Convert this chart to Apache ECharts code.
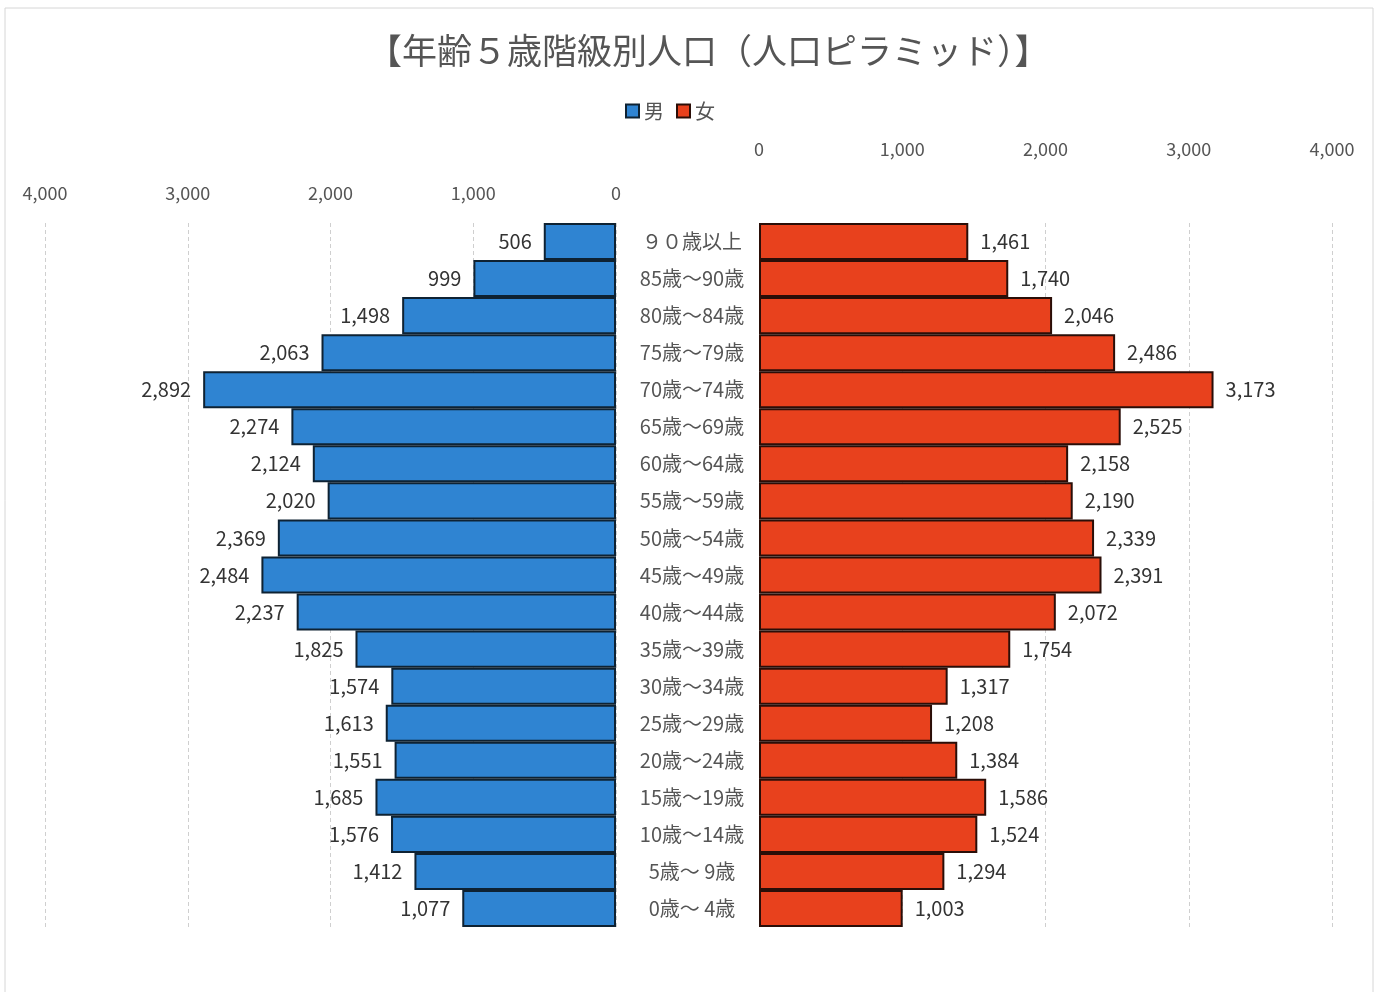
<!DOCTYPE html>
<html>
<head>
<meta charset="utf-8">
<script src="https://cdn.jsdelivr.net/npm/echarts@6/dist/echarts.min.js"></script>
<style>
  html, body { margin: 0; padding: 0; background: #ffffff; }
  #chart { width: 1381px; height: 992px; }
</style>
</head>
<body>
<div id="chart"></div>
<script>
// 5-year age groups, listed top (oldest) to bottom (youngest)
const ageGroups = [
  '９０歳以上', '85歳～90歳', '80歳～84歳', '75歳～79歳', '70歳～74歳',
  '65歳～69歳', '60歳～64歳', '55歳～59歳', '50歳～54歳', '45歳～49歳',
  '40歳～44歳', '35歳～39歳', '30歳～34歳', '25歳～29歳', '20歳～24歳',
  '15歳～19歳', '10歳～14歳', '5歳～ 9歳', '0歳～ 4歳'
];
const male = [506, 999, 1498, 2063, 2892, 2274, 2124, 2020, 2369, 2484,
              2237, 1825, 1574, 1613, 1551, 1685, 1576, 1412, 1077];
const female = [1461, 1740, 2046, 2486, 3173, 2525, 2158, 2190, 2339, 2391,
                2072, 1754, 1317, 1208, 1384, 1586, 1524, 1294, 1003];
const axisMax = 4000;
const axisStep = 1000;

const FONT = '"Noto Sans CJK JP", "Noto Sans", sans-serif';
const fmt = v => v.toLocaleString('en-US');

const chart = echarts.init(document.getElementById('chart'), null, { renderer: 'canvas' });

const gridLine = { show: true, lineStyle: { color: '#cfcfcf', type: [4, 3], width: 1 } };
const tickLabel = { color: '#555', fontSize: 18, fontFamily: FONT, formatter: v => fmt(v) };

chart.setOption({
  backgroundColor: '#ffffff',
  animation: false,
  graphic: [{
    type: 'rect',
    shape: { x: 5, y: 8, width: 1368, height: 1000 },
    style: { fill: 'none', stroke: '#d6d6d6', lineWidth: 1 },
    silent: true
  }],
  title: {
    text: '【年齢５歳階級別人口（人口ピラミッド）】',
    left: 362,
    top: 28,
    textStyle: { color: '#555', fontSize: 35, fontWeight: 'normal', fontFamily: FONT }
  },
  legend: {
    top: 96,
    left: 620,
    itemWidth: 13,
    itemHeight: 13,
    itemGap: 12,
    icon: 'rect',
    textStyle: { color: '#555', fontSize: 20, fontFamily: FONT },
    data: ['男', '女']
  },
  grid: [
    { left: 45, right: 765, top: 223, bottom: 65 },
    { left: 759, right: 49, top: 223, bottom: 65 }
  ],
  xAxis: [
    {
      gridIndex: 0, type: 'value', inverse: true, position: 'top',
      min: 0, max: axisMax, interval: axisStep,
      axisLine: { show: false }, axisTick: { show: false },
      axisLabel: Object.assign({ margin: 21 }, tickLabel),
      splitLine: gridLine
    },
    {
      gridIndex: 1, type: 'value', position: 'top',
      min: 0, max: axisMax, interval: axisStep,
      axisLine: { show: false }, axisTick: { show: false },
      axisLabel: Object.assign({ margin: 65 }, tickLabel),
      splitLine: gridLine
    }
  ],
  yAxis: [
    {
      gridIndex: 0, type: 'category', data: ageGroups, inverse: true,
      axisLine: { show: false }, axisTick: { show: false },
      axisLabel: { show: false }, position: 'right'
    },
    {
      gridIndex: 1, type: 'category', data: ageGroups, inverse: true,
      axisLine: { show: false }, axisTick: { show: false },
      position: 'left',
      axisLabel: {
        margin: 67, align: 'center', color: '#555',
        fontSize: 20, fontFamily: FONT
      }
    }
  ],
  series: [
    {
      name: '男', type: 'bar', xAxisIndex: 0, yAxisIndex: 0,
      data: male, barCategoryGap: 0, barWidth: '100%',
      itemStyle: { color: '#2f84d2', borderColor: '#0e2233', borderWidth: 2 },
      label: {
        show: true, position: 'left', distance: 12, color: '#333',
        fontSize: 20, fontFamily: FONT, formatter: p => fmt(p.value)
      }
    },
    {
      name: '女', type: 'bar', xAxisIndex: 1, yAxisIndex: 1,
      data: female, barCategoryGap: 0, barWidth: '100%',
      itemStyle: { color: '#e8411d', borderColor: '#2a0e08', borderWidth: 2 },
      label: {
        show: true, position: 'right', distance: 12, color: '#333',
        fontSize: 20, fontFamily: FONT, formatter: p => fmt(p.value)
      }
    }
  ]
});
</script>
</body>
</html>
